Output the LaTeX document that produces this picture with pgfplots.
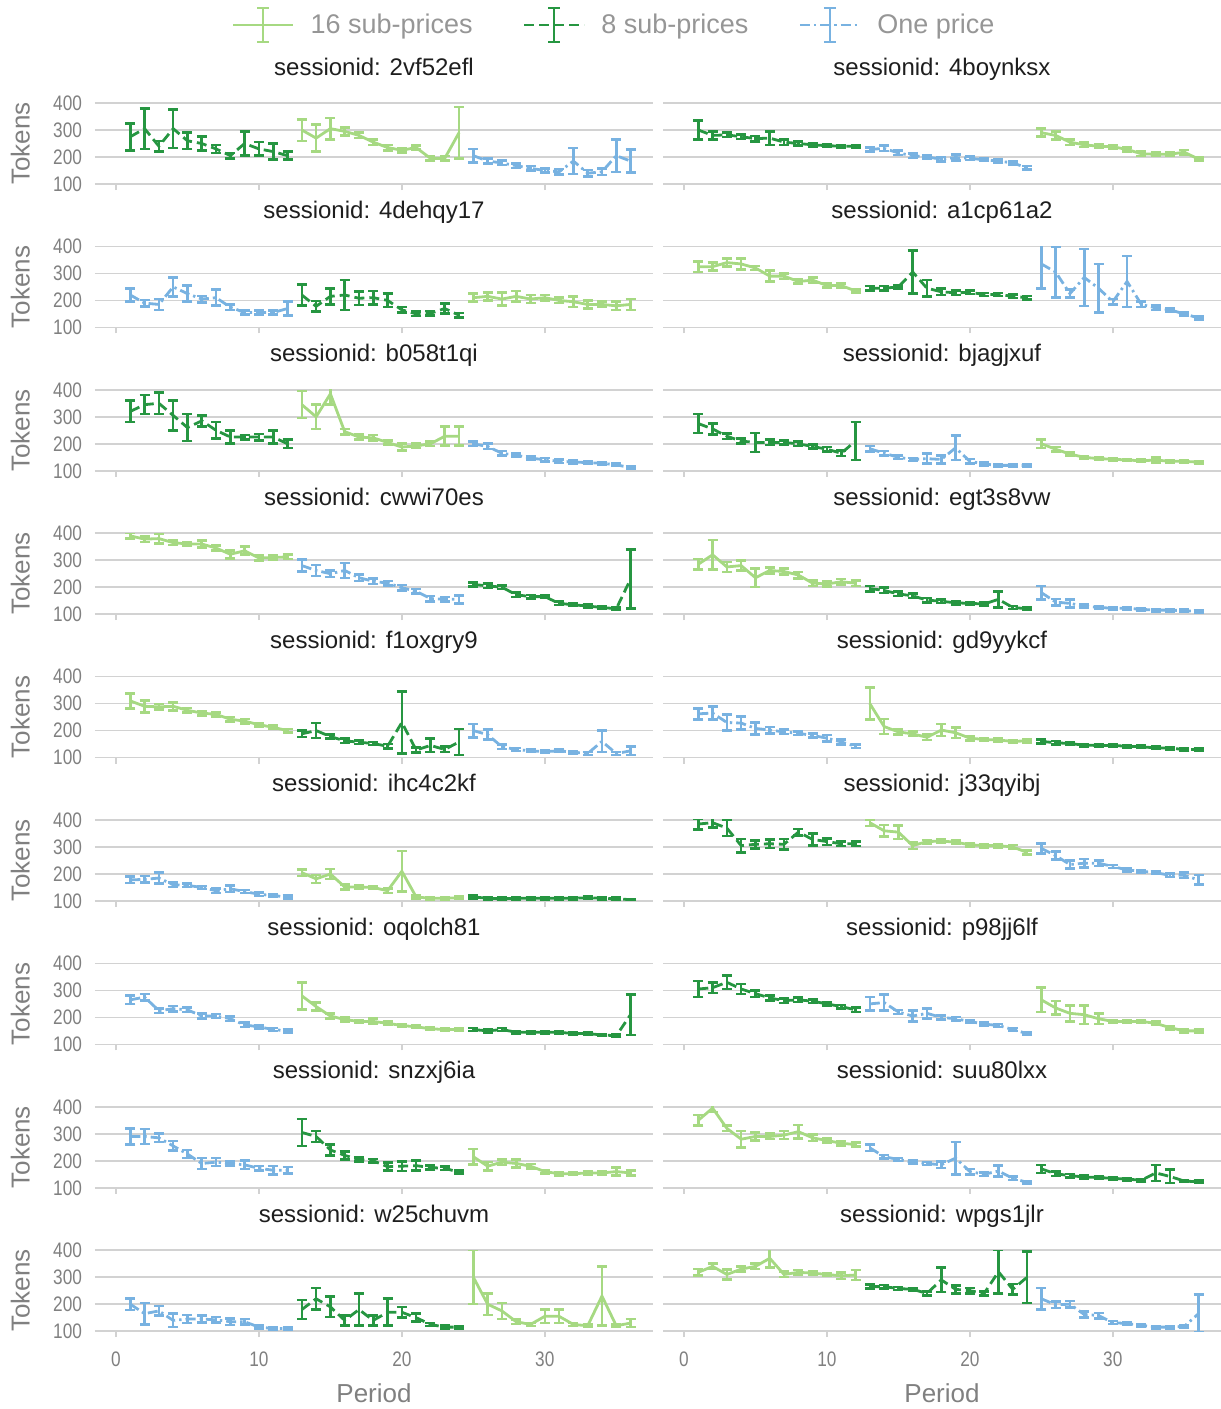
\documentclass[border=0pt]{standalone}
\usepackage{pgfplots}
\pgfplotsset{compat=1.18}
\usepgfplotslibrary{groupplots}
\usepackage{fontspec}
\setmainfont{Liberation Sans}
\newfontfamily\narrowfont[FakeStretch=0.82]{Liberation Sans}
\definecolor{cA}{RGB}{166,217,130}
\definecolor{cB}{RGB}{38,150,65}
\definecolor{cC}{RGB}{120,178,225}
\definecolor{gridgray}{RGB}{210,210,210}
\definecolor{labgray}{RGB}{128,128,128}
\definecolor{leggray}{RGB}{150,150,150}
\definecolor{titlegray}{RGB}{30,30,30}
\pgfplotsset{
  ser/.style={color=#1, line width=1.4pt, mark=none,
    error bars/y dir=both, error bars/y explicit,
    error bars/error bar style={color=#1, solid, line width=1.3pt},
    error bars/error mark options={color=#1, solid, line width=1.3pt, mark size=2.5pt, rotate=90}},
  s16/.style={solid, ser=cA},
  s8/.style={dash pattern=on 5pt off 2.5pt, ser=cB},
  s1/.style={dash pattern=on 5pt off 2pt on 1.2pt off 2pt, ser=cC},
}
\begin{document}
\begin{tikzpicture}
\begin{groupplot}[
  group style={group size=2 by 9, horizontal sep=5pt, vertical sep=31.2pt,
    xticklabels at=edge bottom, yticklabels at=edge left,
    xlabels at=edge bottom, ylabels at=edge left},
  scale only axis, width=279pt, height=40.5pt,
  xmin=-1.47, xmax=37.57, ymin=100, ymax=400,
  xtick={0,10,20,30}, ytick={100,200,300,400},
  axis line style={draw=none},
  ymajorgrids, grid style={color=gridgray, line width=0.8pt},
  tick align=outside, tick pos=left, major tick length=3pt,
  xtick style={color=gridgray, line width=0.8pt}, ytick style={draw=none},
  ticklabel style={font=\narrowfont\fontsize{10.5}{12}\selectfont, text=labgray},
  xticklabel style={yshift=-4pt},
  /pgf/number format/assume math mode=true,
  xlabel=Period, ylabel=Tokens,
  label style={font=\fontsize{13}{15}\selectfont, text=labgray},
  ylabel style={at={(axis description cs:-0.134,0.5)}, anchor=center},
  xlabel style={at={(axis description cs:0.5,-0.765)}, anchor=center},
  title style={font=\fontsize{12}{14}\selectfont, text=titlegray, anchor=base, at={(axis description cs:0.5,1)}, yshift=8pt},
  legend image code/.code={\draw[#1, line width=1.4pt] (0pt,0pt) -- (30pt,0pt);
    \draw[#1, solid, line width=1.2pt] (15pt,-8.5pt) -- (15pt,8.5pt) (12pt,-8.5pt) -- (18pt,-8.5pt) (12pt,8.5pt) -- (18pt,8.5pt);},
]
% ---------- 1
\nextgroupplot[title={sessionid: 2vf52efl},
  legend style={at={(axis description cs:0.932,1.963)}, anchor=center, draw=none, fill=none,
    legend columns=3, font=\fontsize{13.5}{15}\selectfont, text=leggray,
    /tikz/every odd column/.append style={column sep=6pt},
    /tikz/every even column/.append style={column sep=23pt}}]
\addlegendimage{color=cA, solid}
\addlegendimage{color=cB, dash pattern=on 5pt off 2.5pt}
\addlegendimage{color=cC, dash pattern=on 5pt off 2pt on 1.2pt off 2pt}
\legend{16 sub-prices, 8 sub-prices, One price}
\addplot[s8] table[row sep=\\, y error index=2]{1 275 50\\2 305 75\\3 240 20\\4 305 72\\5 260 30\\6 250 25\\7 230 15\\8 205 10\\9 250 45\\10 230 25\\11 220 30\\12 205 15\\};
\addplot[s16] table[row sep=\\, y error index=2]{13 300 40\\14 270 50\\15 305 40\\16 295 15\\17 280 10\\18 255 10\\19 235 10\\20 225 8\\21 235 8\\22 195 8\\23 195 8\\24 290 95\\};
\addplot[s1] table[row sep=\\, y error index=2]{25 205 25\\26 185 10\\27 178 8\\28 168 8\\29 158 8\\30 150 8\\31 145 10\\32 185 48\\33 140 12\\34 145 12\\35 205 60\\36 185 42\\};
% ---------- 2
\nextgroupplot[title={sessionid: 4boynksx}]
\addplot[s8] table[row sep=\\, y error index=2]{1 300 35\\2 280 15\\3 282 8\\4 275 8\\5 268 10\\6 270 25\\7 255 10\\8 250 8\\9 245 6\\10 242 5\\11 240 5\\12 240 5\\};
\addplot[s1] table[row sep=\\, y error index=2]{13 228 8\\14 232 10\\15 215 8\\16 205 8\\17 200 6\\18 192 8\\19 198 12\\20 195 6\\21 190 5\\22 185 6\\23 178 6\\24 160 6\\};
\addplot[s16] table[row sep=\\, y error index=2]{25 290 15\\26 280 15\\27 255 10\\28 245 8\\29 240 6\\30 238 6\\31 228 8\\32 212 8\\33 210 6\\34 210 6\\35 218 8\\36 192 6\\};
% ---------- 3
\nextgroupplot[title={sessionid: 4dehqy17}]
\addplot[s1] table[row sep=\\, y error index=2]{1 220 25\\2 190 12\\3 185 20\\4 250 35\\5 225 30\\6 205 12\\7 210 30\\8 175 10\\9 155 8\\10 155 8\\11 155 8\\12 170 25\\};
\addplot[s8] table[row sep=\\, y error index=2]{13 220 40\\14 178 20\\15 215 30\\16 220 55\\17 208 25\\18 210 25\\19 200 25\\20 165 10\\21 150 8\\22 152 8\\23 170 18\\24 145 8\\};
\addplot[s16] table[row sep=\\, y error index=2]{25 210 15\\26 215 15\\27 205 25\\28 215 20\\29 205 15\\30 210 10\\31 200 10\\32 195 20\\33 185 15\\34 185 10\\35 180 15\\36 185 20\\};
% ---------- 4
\nextgroupplot[title={sessionid: a1cp61a2}]
\addplot[s16] table[row sep=\\, y error index=2]{1 325 20\\2 325 15\\3 340 15\\4 335 20\\5 320 8\\6 290 20\\7 290 10\\8 270 8\\9 275 10\\10 255 8\\11 255 8\\12 235 6\\};
\addplot[s8] table[row sep=\\, y error index=2]{13 245 8\\14 245 8\\15 250 6\\16 305 80\\17 245 30\\18 232 12\\19 228 8\\20 230 6\\21 222 6\\22 222 6\\23 215 6\\24 210 6\\};
\addplot[s1] table[row sep=\\, y error index=2]{25 335 90\\26 305 95\\27 225 15\\28 285 105\\29 245 90\\30 195 10\\31 270 95\\32 185 10\\33 172 8\\34 165 6\\35 150 6\\36 135 6\\};
% ---------- 5
\nextgroupplot[title={sessionid: b058t1qi}]
\addplot[s8] table[row sep=\\, y error index=2]{1 320 40\\2 345 35\\3 350 40\\4 305 55\\5 260 50\\6 285 20\\7 250 30\\8 225 25\\9 225 8\\10 225 12\\11 225 25\\12 200 15\\};
\addplot[s16] table[row sep=\\, y error index=2]{13 345 50\\14 300 45\\15 385 40\\16 245 10\\17 225 10\\18 222 10\\19 205 8\\20 188 12\\21 192 8\\22 200 8\\23 228 35\\24 228 35\\};
\addplot[s1] table[row sep=\\, y error index=2]{25 200 8\\26 190 10\\27 165 8\\28 158 6\\29 147 6\\30 141 6\\31 135 6\\32 133 5\\33 130 5\\34 128 4\\35 122 4\\36 112 4\\};
% ---------- 6
\nextgroupplot[title={sessionid: bjagjxuf}]
\addplot[s8] table[row sep=\\, y error index=2]{1 275 35\\2 255 20\\3 228 10\\4 210 10\\5 205 35\\6 205 10\\7 205 8\\8 200 8\\9 190 8\\10 180 8\\11 165 10\\12 210 70\\};
\addplot[s1] table[row sep=\\, y error index=2]{13 182 10\\14 165 8\\15 150 6\\16 142 6\\17 145 18\\18 142 15\\19 185 45\\20 135 8\\21 125 6\\22 120 5\\23 120 5\\24 120 5\\};
\addplot[s16] table[row sep=\\, y error index=2]{25 200 15\\26 180 8\\27 162 6\\28 150 5\\29 145 5\\30 143 5\\31 140 4\\32 137 4\\33 140 10\\34 135 5\\35 135 5\\36 132 5\\};
% ---------- 7
\nextgroupplot[title={sessionid: cwwi70es}]
\addplot[s16] table[row sep=\\, y error index=2]{1 390 10\\2 378 10\\3 380 18\\4 365 8\\5 360 8\\6 360 12\\7 345 10\\8 322 15\\9 335 15\\10 308 10\\11 310 8\\12 312 8\\};
\addplot[s1] table[row sep=\\, y error index=2]{13 280 22\\14 262 20\\15 250 12\\16 262 28\\17 235 12\\18 222 10\\19 215 8\\20 198 10\\21 185 8\\22 158 10\\23 155 8\\24 155 15\\};
\addplot[s8] table[row sep=\\, y error index=2]{25 210 8\\26 205 8\\27 200 6\\28 172 8\\29 165 6\\30 165 5\\31 140 6\\32 135 5\\33 130 5\\34 125 5\\35 120 5\\36 230 110\\};
% ---------- 8
\nextgroupplot[title={sessionid: egt3s8vw}]
\addplot[s16] table[row sep=\\, y error index=2]{1 285 20\\2 320 55\\3 275 18\\4 280 18\\5 235 35\\6 262 12\\7 258 12\\8 245 12\\9 215 10\\10 212 10\\11 220 10\\12 215 10\\};
\addplot[s8] table[row sep=\\, y error index=2]{13 195 10\\14 188 10\\15 175 8\\16 168 8\\17 152 8\\18 148 6\\19 142 6\\20 140 5\\21 138 5\\22 155 30\\23 125 6\\24 120 5\\};
\addplot[s1] table[row sep=\\, y error index=2]{25 180 25\\26 145 12\\27 140 15\\28 130 6\\29 125 5\\30 122 5\\31 122 5\\32 118 5\\33 115 4\\34 115 4\\35 113 4\\36 110 4\\};
% ---------- 9
\nextgroupplot[title={sessionid: f1oxgry9}]
\addplot[s16] table[row sep=\\, y error index=2]{1 310 28\\2 290 22\\3 288 10\\4 290 15\\5 275 8\\6 265 8\\7 260 8\\8 242 8\\9 235 8\\10 222 6\\11 212 6\\12 200 6\\};
\addplot[s8] table[row sep=\\, y error index=2]{13 188 12\\14 200 28\\15 178 8\\16 162 8\\17 157 6\\18 152 6\\19 142 8\\20 230 115\\21 128 10\\22 145 25\\23 130 10\\24 158 48\\};
\addplot[s1] table[row sep=\\, y error index=2]{25 200 25\\26 185 18\\27 140 8\\28 130 6\\29 125 5\\30 122 5\\31 125 5\\32 120 5\\33 115 5\\34 160 40\\35 115 5\\36 125 15\\};
% ---------- 10
\nextgroupplot[title={sessionid: gd9yykcf}]
\addplot[s1] table[row sep=\\, y error index=2]{1 262 20\\2 265 25\\3 230 30\\4 228 25\\5 208 22\\6 202 12\\7 195 8\\8 190 6\\9 182 8\\10 172 12\\11 158 10\\12 142 6\\};
\addplot[s16] table[row sep=\\, y error index=2]{13 300 60\\14 215 28\\15 195 10\\16 188 8\\17 175 10\\18 202 22\\19 192 20\\20 172 8\\21 167 6\\22 165 5\\23 160 5\\24 162 5\\};
\addplot[s8] table[row sep=\\, y error index=2]{25 160 8\\26 155 6\\27 152 5\\28 146 5\\29 145 5\\30 145 4\\31 142 4\\32 140 4\\33 136 4\\34 135 4\\35 130 4\\36 130 4\\};
% ---------- 11
\nextgroupplot[title={sessionid: ihc4c2kf}]
\addplot[s1] table[row sep=\\, y error index=2]{1 178 12\\2 180 12\\3 185 20\\4 160 8\\5 158 6\\6 150 5\\7 138 8\\8 145 12\\9 135 6\\10 125 6\\11 120 5\\12 115 5\\};
\addplot[s16] table[row sep=\\, y error index=2]{13 205 12\\14 182 15\\15 200 18\\16 152 10\\17 152 6\\18 150 6\\19 138 8\\20 210 75\\21 115 5\\22 110 5\\23 110 5\\24 112 5\\};
\addplot[s8] table[row sep=\\, y error index=2]{25 115 6\\26 110 4\\27 108 4\\28 110 4\\29 110 4\\30 110 4\\31 110 4\\32 110 4\\33 112 4\\34 110 4\\35 108 4\\36 105 3\\};
% ---------- 12
\nextgroupplot[title={sessionid: j33qyibj}]
\addplot[s8] table[row sep=\\, y error index=2]{1 385 20\\2 390 18\\3 370 30\\4 305 25\\5 310 15\\6 312 15\\7 310 20\\8 355 12\\9 328 22\\10 320 12\\11 312 8\\12 312 8\\};
\addplot[s16] table[row sep=\\, y error index=2]{13 390 12\\14 360 22\\15 355 25\\16 305 12\\17 320 6\\18 322 6\\19 318 6\\20 308 6\\21 305 6\\22 305 6\\23 300 8\\24 280 8\\};
\addplot[s1] table[row sep=\\, y error index=2]{25 295 18\\26 268 15\\27 235 15\\28 240 15\\29 240 10\\30 228 6\\31 215 6\\32 210 5\\33 205 5\\34 195 6\\35 195 10\\36 178 18\\};
% ---------- 13
\nextgroupplot[title={sessionid: oqolch81}]
\addplot[s1] table[row sep=\\, y error index=2]{1 265 15\\2 275 12\\3 225 8\\4 232 10\\5 228 8\\6 205 10\\7 205 8\\8 195 8\\9 172 8\\10 165 6\\11 155 5\\12 150 5\\};
\addplot[s16] table[row sep=\\, y error index=2]{13 280 50\\14 240 15\\15 205 10\\16 192 8\\17 185 6\\18 185 10\\19 178 6\\20 170 6\\21 165 5\\22 158 5\\23 155 4\\24 155 4\\};
\addplot[s8] table[row sep=\\, y error index=2]{25 155 6\\26 150 5\\27 155 5\\28 145 5\\29 145 4\\30 145 4\\31 145 4\\32 140 4\\33 140 4\\34 135 4\\35 132 5\\36 210 75\\};
% ---------- 14
\nextgroupplot[title={sessionid: p98jj6lf}]
\addplot[s8] table[row sep=\\, y error index=2]{1 305 30\\2 310 20\\3 330 25\\4 305 18\\5 288 12\\6 272 10\\7 262 8\\8 265 8\\9 260 6\\10 250 6\\11 240 6\\12 228 8\\};
\addplot[s1] table[row sep=\\, y error index=2]{13 250 25\\14 255 30\\15 220 8\\16 205 20\\17 215 18\\18 200 8\\19 195 6\\20 185 5\\21 175 5\\22 170 5\\23 155 5\\24 140 5\\};
\addplot[s16] table[row sep=\\, y error index=2]{25 265 45\\26 235 25\\27 215 30\\28 210 35\\29 195 20\\30 185 6\\31 185 6\\32 185 6\\33 178 6\\34 162 6\\35 150 5\\36 150 5\\};
% ---------- 15
\nextgroupplot[title={sessionid: snzxj6ia}]
\addplot[s1] table[row sep=\\, y error index=2]{1 290 30\\2 290 28\\3 285 15\\4 255 18\\5 225 15\\6 190 20\\7 195 15\\8 190 8\\9 185 15\\10 172 8\\11 165 15\\12 165 12\\};
\addplot[s8] table[row sep=\\, y error index=2]{13 305 50\\14 290 20\\15 240 20\\16 220 15\\17 205 8\\18 200 6\\19 178 15\\20 180 18\\21 182 18\\22 175 8\\23 172 6\\24 158 5\\};
\addplot[s16] table[row sep=\\, y error index=2]{25 215 28\\26 180 15\\27 195 10\\28 190 15\\29 180 8\\30 160 6\\31 152 6\\32 152 5\\33 155 5\\34 155 5\\35 160 15\\36 155 10\\};
% ---------- 16
\nextgroupplot[title={sessionid: suu80lxx}]
\addplot[s16] table[row sep=\\, y error index=2]{1 350 20\\2 395 15\\3 320 10\\4 280 30\\5 290 15\\6 290 10\\7 295 15\\8 308 25\\9 285 12\\10 275 8\\11 265 8\\12 260 8\\};
\addplot[s1] table[row sep=\\, y error index=2]{13 248 12\\14 215 6\\15 205 6\\16 195 5\\17 190 5\\18 185 12\\19 210 60\\20 160 10\\21 150 6\\22 162 20\\23 135 6\\24 120 5\\};
\addplot[s8] table[row sep=\\, y error index=2]{25 170 15\\26 152 8\\27 145 6\\28 140 5\\29 138 4\\30 135 4\\31 132 4\\32 128 4\\33 155 30\\34 142 25\\35 125 4\\36 122 4\\};
% ---------- 17
\nextgroupplot[title={sessionid: w25chuvm}]
\addplot[s1] table[row sep=\\, y error index=2]{1 200 22\\2 165 40\\3 175 18\\4 140 25\\5 145 15\\6 145 12\\7 142 10\\8 135 12\\9 135 10\\10 115 5\\11 110 4\\12 110 4\\};
\addplot[s8] table[row sep=\\, y error index=2]{13 180 35\\14 220 40\\15 190 38\\16 140 18\\17 180 60\\18 140 18\\19 170 50\\20 170 20\\21 150 15\\22 125 6\\23 115 5\\24 115 4\\};
\addplot[s16] table[row sep=\\, y error index=2]{25 300 100\\26 200 40\\27 175 30\\28 135 8\\29 125 6\\30 155 25\\31 155 25\\32 125 6\\33 120 5\\34 230 110\\35 120 5\\36 130 15\\};
% ---------- 18
\nextgroupplot[title={sessionid: wpgs1jlr}]
\addplot[s16] table[row sep=\\, y error index=2]{1 318 12\\2 340 10\\3 310 18\\4 330 10\\5 340 10\\6 370 35\\7 310 10\\8 318 8\\9 315 6\\10 310 6\\11 305 12\\12 308 18\\};
\addplot[s8] table[row sep=\\, y error index=2]{13 265 8\\14 265 6\\15 258 6\\16 255 5\\17 240 8\\18 290 45\\19 255 15\\20 250 10\\21 240 8\\22 320 80\\23 255 20\\24 300 95\\};
\addplot[s1] table[row sep=\\, y error index=2]{25 220 40\\26 198 12\\27 200 12\\28 162 12\\29 158 10\\30 132 6\\31 128 5\\32 122 5\\33 115 4\\34 115 4\\35 118 5\\36 165 70\\};
\end{groupplot}
\pgfresetboundingbox
\path ([xshift=-47.5pt,yshift=51.5pt]group c1r1.north west) rectangle ([xshift=563pt,yshift=-653pt]group c1r1.north west);
\end{tikzpicture}
\end{document}
